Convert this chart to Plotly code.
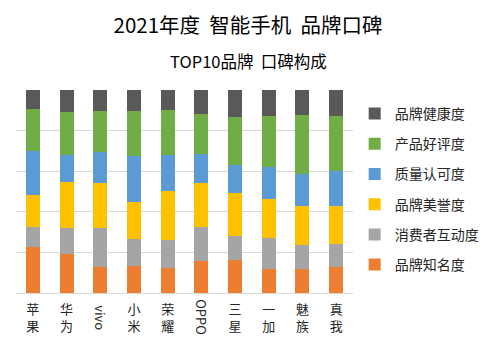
import plotly.graph_objects as go

brands = ["苹果", "华为", "vivo", "小米", "荣耀", "OPPO", "三星", "一加", "魅族", "真我"]

series_names = ["品牌知名度", "消费者互动度", "品牌美誉度", "质量认可度", "产品好评度", "品牌健康度"]
zhiming = [22.5, 19.2, 12.7, 13.3, 12.3, 15.6, 16.3, 11.7, 11.7, 12.7]
hudong = [9.9, 12.9, 19.4, 13.2, 13.7, 16.8, 11.8, 15.4, 11.8, 11.3]
meiyu = [15.8, 22.7, 22.0, 18.2, 24.2, 21.7, 21.1, 19.1, 19.3, 18.8]
renke = [21.7, 13.1, 15.5, 22.9, 17.7, 14.5, 13.8, 15.8, 15.9, 17.2]
haoping = [20.7, 21.2, 20.0, 22.0, 22.2, 19.6, 23.7, 25.2, 29.0, 27.2]
jiankang = [9.4, 10.9, 10.4, 10.4, 9.9, 11.8, 13.3, 12.8, 12.3, 12.8]

series_values = [zhiming, hudong, meiyu, renke, haoping, jiankang]
colors = ["#ED7D31", "#A5A5A5", "#FFC000", "#5B9BD5", "#70AD47", "#595959"]

FONT = "Noto Sans CJK SC"
OFF = 8  # page body margin
W, H = 498, 355
PLOT_LEFT, PLOT_RIGHT = 16 - OFF, 353 - OFF
PLOT_TOP, PLOT_BOTTOM = 90 - OFF, 293 - OFF
PLOT_H = PLOT_BOTTOM - PLOT_TOP
PLOT_W = PLOT_RIGHT - PLOT_LEFT

fig = go.Figure()
for i, (name, vals, col) in enumerate(zip(series_names, series_values, colors)):
    fig.add_trace(go.Bar(
        x=brands, y=vals, name=name, marker_color=col, marker_line_width=0,
        legendgroup=f"g{i}", legendrank=100 - i,
    ))


def tick_text(label):
    if label.isascii():
        return ""
    return "<br>".join(label)


latin = [b for b in brands if b.isascii()]
annotations = [
    dict(text=b, x=b, xref="x", y=-(317.5 - OFF - PLOT_BOTTOM) / PLOT_H, yref="paper",
         yanchor="middle", textangle=90,
         showarrow=False, font=dict(family=FONT, size=13, color="#262626"))
    for b in latin
]
annotations.append(dict(
    text="TOP10品牌\u00a0 口碑构成", x=(248 - OFF - PLOT_LEFT) / PLOT_W, xref="paper",
    xanchor="center",
    y=1 + (PLOT_TOP - (61 - OFF)) / PLOT_H, yref="paper", yanchor="middle", showarrow=False,
    font=dict(family=FONT, size=16.5, color="#000000"),
))

fig.update_layout(
    width=W, height=H,
    margin=dict(l=PLOT_LEFT, r=W - PLOT_RIGHT, t=PLOT_TOP, b=H - PLOT_BOTTOM),
    paper_bgcolor="white", plot_bgcolor="white",
    barmode="stack", bargap=0.585,
    title=dict(text="2021年度\u00a0 智能手机\u00a0 品牌口碑", x=(248 - OFF) / W, xref="container",
               xanchor="center", y=1 - 18 / H, yref="container", yanchor="middle",
               font=dict(family=FONT, size=20.5, color="#000000")),
    font=dict(family=FONT, size=12, color="#404040"),
    legend=dict(tracegroupgap=9,
                x=1.005, xanchor="left", y=1 - 8 / PLOT_H, yanchor="top",
                font=dict(family=FONT, size=14, color="#262626"),
                bgcolor="rgba(0,0,0,0)"),
    xaxis=dict(tickmode="array", tickvals=brands,
               ticktext=[tick_text(b) for b in brands],
               showline=True, linecolor="#d9d9d9", linewidth=1,
               ticks="", showgrid=False, automargin=False, ticklabelstandoff=4,
               tickfont=dict(family=FONT, size=13, color="#262626")),
    yaxis=dict(range=[0, 100], dtick=20, showgrid=True, gridcolor="#d9d9d9",
               showticklabels=False, zeroline=False, ticks="", automargin=False),
    showlegend=True,
    annotations=annotations,
)

fig.write_html("out.html")
